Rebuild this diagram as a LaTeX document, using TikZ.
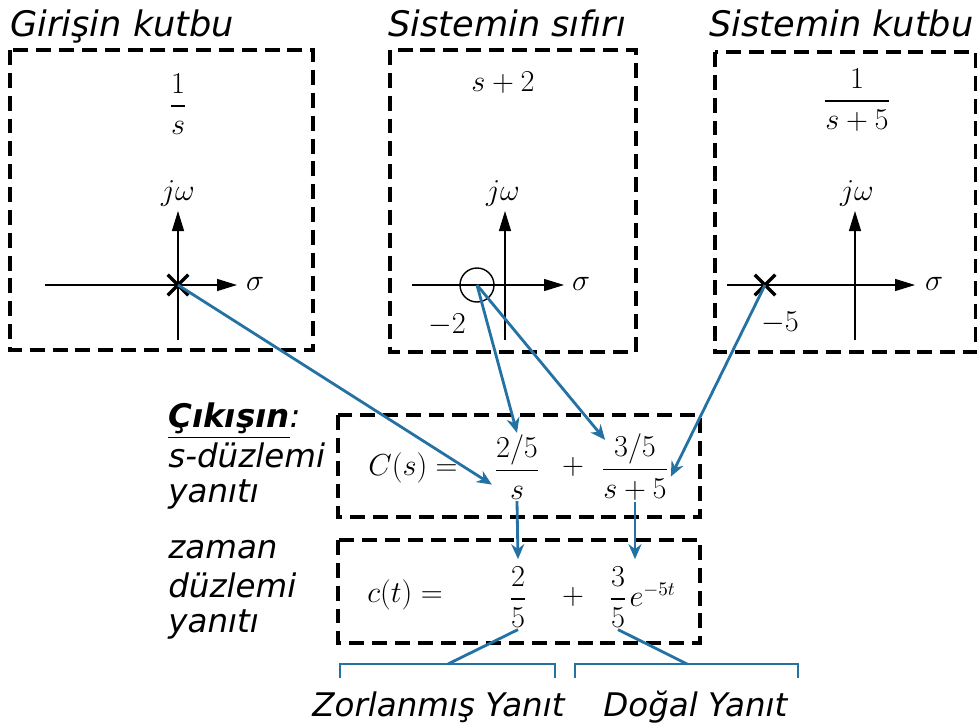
\documentclass[tikz,border=0pt]{standalone}
\usepackage{amsmath}
\usepackage{fontspec}
\setmainfont{DejaVu Sans}
\usetikzlibrary{arrows.meta, positioning, shapes.misc}
\definecolor{flow}{HTML}{2471A3}

\begin{document}
\begin{tikzpicture}[x=0.02cm, y=-0.02cm,
    frame/.style={draw, line width=1.9pt, dash pattern=on 8.5pt off 4.5pt},
    axis/.style={line width=0.75pt, -{Triangle[length=4mm, width=2.4mm]}},
    polex/.style={cross out, draw, line width=2pt, minimum size=0.34cm, inner sep=0pt},
    ttl/.style={font=\fontsize{20}{24}\selectfont\itshape, anchor=base west, inner sep=0pt},
    lbl/.style={font=\fontsize{18.5}{22}\selectfont\itshape, anchor=base west, inner sep=0pt},
    mth/.style={font=\fontsize{16}{19}\selectfont, inner sep=1pt},
    axl/.style={font=\fontsize{19}{22}\selectfont, inner sep=1pt},
    ar/.style={flow, line width=1.6pt, -{Stealth[length=3mm, width=2.6mm]}},
    ln/.style={flow, line width=1.6pt}
  ]
  \useasboundingbox (0,0) rectangle (977,727);

  % input pole
  \node[ttl] (t1) at (10,36) {Girişin kutbu};
  \draw[frame] (10,50) rectangle (313,350);
  \node[mth] (g1) at (178,104) {$\dfrac{1}{s}$};
  \draw[axis] (45,285) -- (237,285);
  \draw[axis] (178,340) -- (178,211);
  \node[mth] (w1) at (178,193) {$j\omega$};
  \node[axl] (s1) at (255,284) {$\sigma$};
  \node[polex] (p1) at (178,285) {};

  % system zero
  \node[ttl] (t2) at (388,36) {Sistemin sıfırı};
  \draw[frame] (390,50) rectangle (636,352);
  \node[mth] (g2) at (503,83) {$s+2$};
  \draw[axis] (412,285) -- (564,285);
  \draw[axis] (505,340) -- (505,211);
  \node[mth] (w2) at (503,193) {$j\omega$};
  \node[axl] (s2) at (581,284) {$\sigma$};
  \node[circle, draw, line width=0.8pt, minimum size=0.68cm, inner sep=0pt] (z) at (477,285) {};
  \node[mth] (m2) at (447,325) {$-2$};

  % system pole
  \node[ttl] (t3) at (709,36) {Sistemin kutbu};
  \draw[frame] (715,52) rectangle (976,352);
  \node[mth] (g3) at (857,100) {$\dfrac{1}{s+5}$};
  \draw[axis] (727,285) -- (915,285);
  \draw[axis] (855,340) -- (855,211);
  \node[mth] (w3) at (857,193) {$j\omega$};
  \node[axl] (s3) at (934,284) {$\sigma$};
  \node[polex] (p3) at (765,285) {};
  \node[mth] (m3) at (780,323) {$-5$};

  % output
  \node[lbl] (o1) at (168,427) {\underline{\textbf{Çıkışın}}:};
  \node[lbl] (o2) at (168,467) {s-düzlemi};
  \node[lbl] (o3) at (168,502) {yanıtı};
  \node[lbl] (o4) at (168,558) {zaman};
  \node[lbl] (o5) at (168,597) {düzlemi};
  \node[lbl] (o6) at (168,632) {yanıtı};

  \draw[frame] (338,415) rectangle (700,517);
  \node[mth] (cs) at (413,468) {$C(s) =$};
  \node[mth] (fa) at (517,467) {$\dfrac{2/5}{s}$};
  \node[mth] (pa) at (573,467) {$+$};
  \node[mth] (fb) at (635,467) {$\dfrac{3/5}{s+5}$};

  \draw[frame] (338,540) rectangle (700,643);
  \node[mth] (ct) at (405,595) {$c(t) =$};
  \node[mth] (ta) at (518,597) {$\dfrac{2}{5}$};
  \node[mth] (pb) at (573,597) {$+$};
  \node[mth] (tb) at (618,597) {$\dfrac{3}{5}$};
  \node[mth, anchor=base west, inner sep=0pt] (te) at (tb.base east) {$e^{-5t}$};

  \draw[ar] (p1.center) -- (fa.215);
  \draw[ar] (z.center) -- (fa.north);
  \draw[ar] (z.center) -- ([shift={(6,8)}]fb.north west);
  \draw[ar] (p3.center) -- (fb.-15);
  \draw[ar] (fa.south) -- ([yshift=3pt]ta.north);
  \draw[ar] (fb.south) -- ([yshift=3pt]fb.south |- tb.north);

  % brackets
  \coordinate (b1) at (448,664);
  \coordinate (b2) at (687,664);
  \draw[ln] (340,678) -- (340,664) -- (555,664) -- (555,678);
  \draw[ln] (575,678) -- (575,664) -- (798,664) -- (798,678);
  \draw[ln] (ta.south) -- (b1);
  \draw[ln] (tb.south) -- (b2);
  \node[lbl] (zy) at (312,716) {Zorlanmış Yanıt};
  \node[lbl] (dy) at (603,716) {Doğal Yanıt};
\end{tikzpicture}
\end{document}
